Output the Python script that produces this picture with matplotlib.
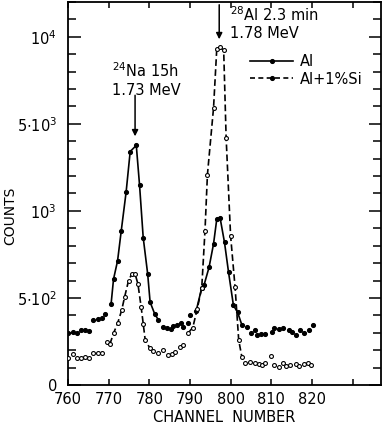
import numpy as np
import matplotlib.pyplot as plt
from matplotlib.lines import Line2D

# Al sample (filled dots, solid line over the peaks)
al_channel = [760.1, 761.3, 762.3, 763.2, 764.2, 765.2, 766.2, 767.5, 768.3, 769.1,
              770.6, 771.2, 772.2, 773.1, 774.3, 775.3, 776.8, 777.6, 778.5, 779.6,
              780.2, 781.3, 782.2,
              783.3, 784.3, 785.3, 785.9, 786.8, 787.8, 788.4, 789.4, 790.0,
              791.5, 792.9, 793.5, 794.7, 795.8, 796.6, 797.4, 798.5, 799.5, 800.7,
              801.7, 802.8,
              804.0, 805.0, 806.1, 806.6, 807.5, 808.4, 810.2, 810.7, 812.0, 812.8,
              814.3, 815.1, 816.2, 817.0, 818.0, 819.2, 820.3]
al_counts = [297, 305, 300, 315, 318, 309, 371, 381, 385, 406,
             465, 608, 714, 886, 1870, 3730, 4010, 2190, 847, 638,
             476, 410, 375,
             333, 327, 324, 337, 347, 356, 333, 356, 400,
             423, 558, 577, 676, 810, 953, 962, 819, 647, 457,
             419, 343,
             333, 299, 314, 286, 291, 295, 305, 330, 324, 330,
             314, 305, 290, 314, 301, 318, 343]

# Al + 1% Si sample (open circles, dashed line over the peaks)
alsi_channel = [760.1, 761.3, 762.3, 763.2, 764.2, 765.2, 766.2, 767.3, 768.3, 769.5,
                770.3, 771.2, 772.2, 773.2, 773.9, 774.9, 775.7, 776.5, 777.2, 778.0,
                778.5, 779.0, 780.2,
                781.0, 782.1, 783.3, 784.7, 785.5, 786.4, 787.6, 788.4,
                789.6, 790.7, 791.8, 792.9, 793.7, 794.3, 795.8, 796.6, 797.3, 798.3,
                798.9, 800.0, 801.1, 802.0, 802.8,
                803.6, 804.7, 805.9, 806.9, 807.7, 808.5, 810.0, 810.7, 811.8, 812.9,
                813.7, 814.7, 816.0, 816.9, 818.0, 819.0, 819.9]
alsi_counts = [153, 177, 154, 154, 160, 154, 183, 183, 185, 246,
               234, 297, 354, 429, 503, 600, 638, 638, 581, 447,
               353, 257, 210,
               196, 185, 200, 171, 177, 190, 219, 229,
               300, 330, 438, 558, 886, 2667, 5909, 9318, 9415, 9222,
               4367, 857, 562, 257, 158,
               127, 133, 124, 120, 114, 124, 166, 114, 105, 124,
               110, 114, 120, 110, 120, 124, 114]

al_peaks = [(770.5, 783.0), (791.0, 803.0)]
alsi_peaks = [(770.0, 780.5), (789.5, 803.0)]

x_ticks = [760, 770, 780, 790, 800, 810, 820, 830]
x_labels = ['760', '770', '780', '790', '800', '810', '820', '']
y_major = [0, 500, 1000, 5000, 10000]
y_labels = ['0', r'$5{\cdot}10^2$', r'$10^3$', r'$5{\cdot}10^3$', r'$10^4$']

# the counts axis is drawn with equal steps between 0, 5e2, 1e3, 5e3, 1e4
anchors = [0, 500, 1000, 5000, 10000, 20000]
steps = [0, 1, 2, 3, 4, 6]


def fwd(v):
    return np.interp(v, anchors, steps)


def inv(s):
    return np.interp(s, steps, anchors)


fig = plt.figure(figsize=(3.84, 4.24), dpi=100)
ax = fig.add_axes([68 / 384, 39 / 424, 313 / 384, 383 / 424])
ax.set_yscale('function', functions=(fwd, inv))
ax.set_xlim(760, 837)
ax.set_ylim(0, 12000)

al_x = np.array(al_channel)
al_y = np.array(al_counts)
si_x = np.array(alsi_channel)
si_y = np.array(alsi_counts)

ax.plot(al_x, al_y, 'o', color='k', ms=2.7, zorder=3)
for lo, hi in al_peaks:
    m = (al_x >= lo) & (al_x <= hi)
    ax.plot(al_x[m], al_y[m], '-', color='k', lw=1.2)

ax.plot(si_x, si_y, 'o', mfc='white', mec='k', mew=0.8, ms=2.8, zorder=3)
for lo, hi in alsi_peaks:
    m = (si_x >= lo) & (si_x <= hi)
    ax.plot(si_x[m], si_y[m], '--', color='k', lw=1.2, dashes=(4, 2))

ax.set_xticks(x_ticks)
ax.set_xticklabels(x_labels)
ax.set_yticks(y_major)
ax.set_yticklabels(y_labels)
ax.set_yticks([v for v in inv(np.arange(0, 4.41, 0.2)) if v not in y_major], minor=True)
ax.tick_params(axis='both', which='both', direction='in', top=True, right=True,
               labelsize=10.5, width=1.1)
ax.tick_params(axis='y', which='major', length=9, pad=8)
ax.tick_params(axis='y', which='minor', length=6)
ax.tick_params(axis='x', which='major', length=4, pad=5)
for s in ax.spines.values():
    s.set_linewidth(1.3)

ax.set_xlabel('CHANNEL  NUMBER', fontsize=10.5, labelpad=2)
fig.text(0.027, 0.49, 'COUNTS', rotation=90, ha='center', va='center', fontsize=10)

# peak labels
ax.annotate('', xy=(776.5, 4300), xytext=(776.5, 6800),
            arrowprops=dict(arrowstyle='-|>', color='k', lw=1.1, mutation_scale=9))
ax.text(0.249, 0.82, r'$^{24}$Na 15h', transform=ax.transAxes, ha='center', va='center', fontsize=10.5)
ax.text(0.249, 0.77, '1.73 MeV', transform=ax.transAxes, ha='center', va='center', fontsize=10.5)

ax.annotate('', xy=(797.2, 9700), xytext=(797.2, 12000),
            arrowprops=dict(arrowstyle='-|>', color='k', lw=1.1, mutation_scale=9))
ax.text(0.518, 0.966, r'$^{28}$Al 2.3 min', transform=ax.transAxes, ha='left', va='center', fontsize=10.5)
ax.text(0.518, 0.919, '1.78 MeV', transform=ax.transAxes, ha='left', va='center', fontsize=10.5)

handles = [Line2D([], [], color='k', lw=1.2, marker='o', ms=2.7),
           Line2D([], [], color='k', lw=1.2, ls='--', dashes=(3, 2), marker='o', ms=2.7)]
ax.legend(handles, ['Al', 'Al+1%Si'], loc='upper left', bbox_to_anchor=(0.55, 0.89),
          frameon=False, handlelength=2.9, numpoints=1, fontsize=10.5,
          handletextpad=0.5, labelspacing=0.15, borderpad=0.2)

fig.savefig('out.png', dpi=100)
